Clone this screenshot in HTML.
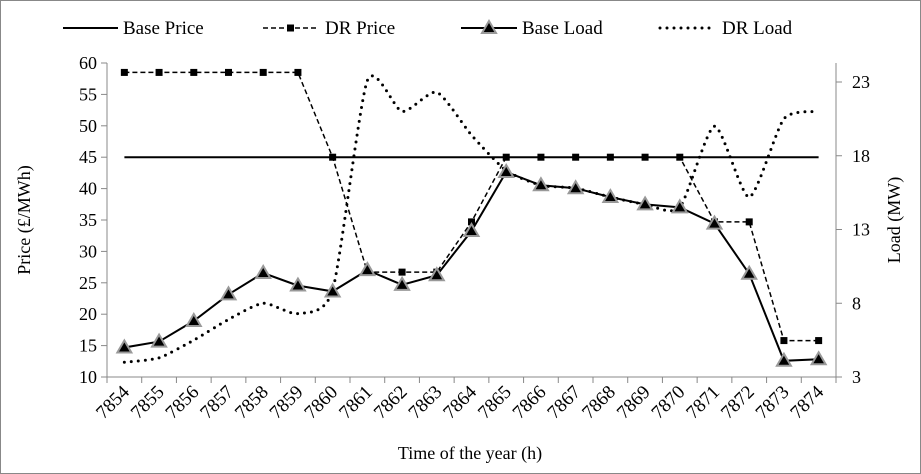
<!DOCTYPE html>
<html><head><meta charset="utf-8"><style>
html,body{margin:0;padding:0;background:#fff}
svg{display:block;font-family:"Liberation Serif",serif}
</style></head><body>
<svg id="chart" width="921" height="474">
<rect x="0.5" y="0.5" width="920" height="473" fill="#fff" stroke="#888"/>
<g id="legend"></g>
<g id="axes"></g>
<g id="series"></g>
<text x="30" y="220" font-size="18" text-anchor="middle" transform="rotate(-90 30 220)">Price (£/MWh)</text>
<text x="900" y="220" font-size="18" text-anchor="middle" transform="rotate(-90 900 220)">Load (MW)</text>
<text x="470" y="459" font-size="18" text-anchor="middle">Time of the year (h)</text>
</svg>
<script>
const categories=[7854,7855,7856,7857,7858,7859,7860,7861,7862,7863,7864,7865,7866,7867,7868,7869,7870,7871,7872,7873,7874];
const basePrice=[45,45,45,45,45,45,45,45,45,45,45,45,45,45,45,45,45,45,45,45,45];
const drPrice=[58.5,58.5,58.5,58.5,58.5,58.5,45,26.7,26.7,26.7,34.7,45,45,45,45,45,45,34.7,34.7,15.8,15.8];
const baseLoad=[5.0,5.4,6.8,8.6,10.05,9.2,8.8,10.25,9.25,9.9,12.9,16.9,16.0,15.8,15.2,14.7,14.5,13.4,10.0,4.1,4.2];
const drLoad=[4.0,4.3,5.5,6.9,8.0,7.3,8.9,23.1,21.0,22.3,19.4,17.0,16.0,15.8,15.2,14.7,14.5,20.0,15.2,20.5,21.0];
const priceTicks=[10,15,20,25,30,35,40,45,50,55,60];
const loadTicks=[3,8,13,18,23];

const NS="http://www.w3.org/2000/svg";
const L=107,R=836,T=63,B=377;
const bw=(R-L)/categories.length;
const xs=i=>L+bw*(i+0.5);
const yP=v=>B-(v-10)/50*(B-T);
const yL=v=>377-(v-3)/20*(377-82);
function mk(tag,attrs,parent){const e=document.createElementNS(NS,tag);for(const k in attrs)e.setAttribute(k,attrs[k]);parent.appendChild(e);return e;}
const ax=document.getElementById('axes'),se=document.getElementById('series'),lg=document.getElementById('legend');
const g='#888';
let e;
e=mk('line',{x1:L,y1:T,x2:L,y2:B,stroke:g},ax);

e=mk('line',{x1:R,y1:T,x2:R,y2:B,stroke:g},ax);

e=mk('line',{x1:L,y1:B,x2:R,y2:B,stroke:g},ax);

priceTicks.forEach(v=>{const y=yP(v);mk('line',{x1:L-6,y1:y,x2:L,y2:y,stroke:g},ax);
 e=mk('text',{x:L-10,y:y+6,'font-size':18,'text-anchor':'end'},ax);e.textContent=v;
 });
loadTicks.forEach(v=>{const y=yL(v);mk('line',{x1:R,y1:y,x2:R+6,y2:y,stroke:g},ax);
 e=mk('text',{x:R+16,y:y+6,'font-size':18},ax);e.textContent=v;
 });
for(let i=0;i<=categories.length;i++){const x=L+bw*i;mk('line',{x1:x,y1:B,x2:x,y2:B+6,stroke:g},ax);}
categories.forEach((c,i)=>{const x=xs(i)+6,y=B+16;
 e=mk('text',{x:x,y:y,'font-size':19,'text-anchor':'end',transform:`rotate(-45 ${x} ${y})`},ax);e.textContent=c;
 });

function pts(arr,f){return arr.map((v,i)=>[xs(i),f(v)]);}
function poly(p){return 'M'+p.map(q=>q[0].toFixed(1)+','+q[1].toFixed(1)).join('L');}
function smooth(p){const k=9;let d='M'+p[0][0]+','+p[0][1];for(let i=0;i<p.length-1;i++){const p0=p[i-1]||p[i],p1=p[i],p2=p[i+1],p3=p[i+2]||p2;
 const c1=[p1[0]+(p2[0]-p0[0])/k,p1[1]+(p2[1]-p0[1])/k],c2=[p2[0]-(p3[0]-p1[0])/k,p2[1]-(p3[1]-p1[1])/k];
 d+=`C${c1[0]},${c1[1]} ${c2[0]},${c2[1]} ${p2[0]},${p2[1]}`;}return d;}

e=mk('path',{d:poly(pts(basePrice,yP)),fill:'none',stroke:'#000','stroke-width':2},se);

e=mk('path',{d:poly(pts(drPrice,yP)),fill:'none',stroke:'#000','stroke-width':1.5,'stroke-dasharray':'5,3'},se);

pts(drPrice,yP).forEach(p=>{e=mk('rect',{x:p[0]-3.5,y:p[1]-3.5,width:7,height:7,fill:'#000'},se);
 });
e=mk('path',{d:smooth(pts(drLoad,yL)),fill:'none',stroke:'#000','stroke-width':3,'stroke-dasharray':'0,7','stroke-linecap':'round'},se);

e=mk('path',{d:poly(pts(baseLoad,yL)),fill:'none',stroke:'#000','stroke-width':2},se);

function tri(x,y,par){return mk('path',{d:`M${x},${y-7}L${x+7},${y+5}L${x-7},${y+5}Z`,fill:'#000',stroke:'#999','stroke-width':2},par);}
pts(baseLoad,yL).forEach(p=>{e=tri(p[0],p[1],se);
 });

// legend
const ly=28;
mk('line',{x1:63,y1:ly,x2:118,y2:ly,stroke:'#000','stroke-width':2},lg);
e=mk('text',{x:123,y:ly+6,'font-size':19},lg);e.textContent='Base Price';

mk('line',{x1:263,y1:ly,x2:318,y2:ly,stroke:'#000','stroke-width':1.5,'stroke-dasharray':'5,3'},lg);
mk('rect',{x:287,y:ly-3.5,width:7,height:7,fill:'#000'},lg);
e=mk('text',{x:325,y:ly+6,'font-size':19},lg);e.textContent='DR Price';

mk('line',{x1:461,y1:ly,x2:517,y2:ly,stroke:'#000','stroke-width':2},lg);
tri(489,ly,lg);
e=mk('text',{x:522,y:ly+6,'font-size':19},lg);e.textContent='Base Load';

mk('line',{x1:660,y1:ly,x2:716,y2:ly,stroke:'#000','stroke-width':3,'stroke-dasharray':'0,7','stroke-linecap':'round'},lg);
e=mk('text',{x:722,y:ly+6,'font-size':19},lg);e.textContent='DR Load';

</script>
</body></html>
